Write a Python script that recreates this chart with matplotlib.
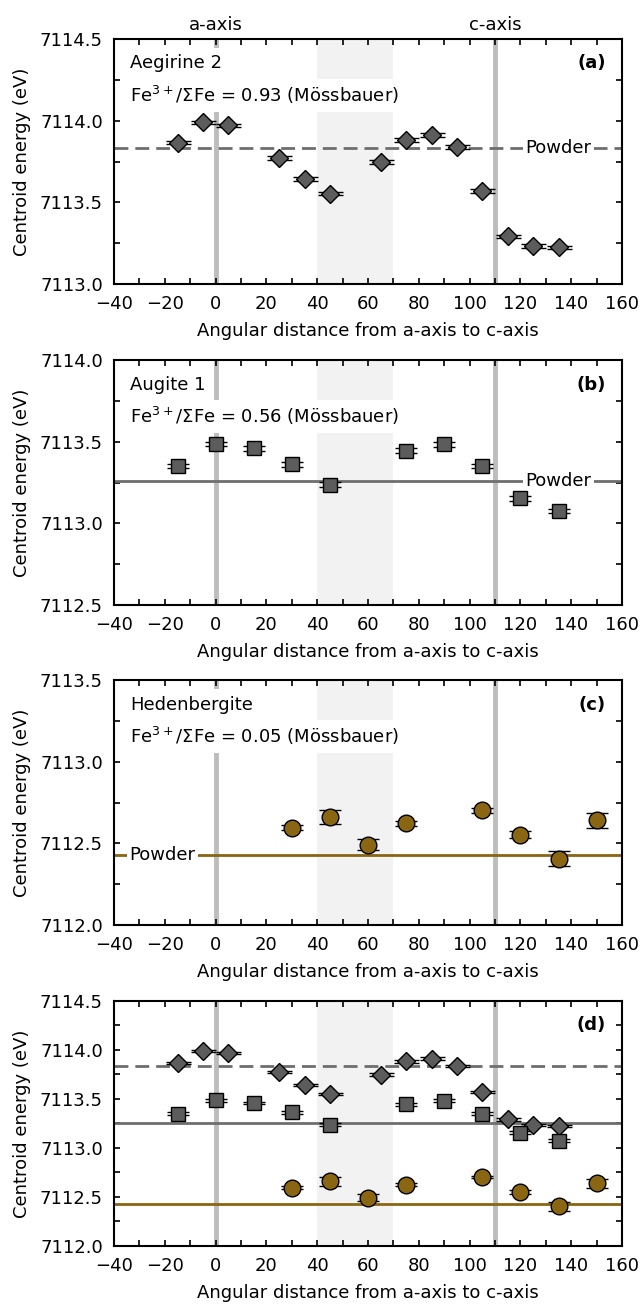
import numpy as np
import matplotlib
matplotlib.use('Agg')
import matplotlib.pyplot as plt
from matplotlib.ticker import MultipleLocator, FormatStrFormatter

plt.rcParams['font.family'] = ['DejaVu Sans']
plt.rcParams['mathtext.fontset'] = 'dejavusans'
plt.rcParams['font.size'] = 13
plt.rcParams['axes.unicode_minus'] = True

# aegirine 2 (diamonds)
aeg_x = [-15, -5, 5, 25, 35, 45, 65, 75, 85, 95, 105, 115, 125, 135]
aeg_y = [7113.865, 7113.991, 7113.971, 7113.773, 7113.645, 7113.554, 7113.749,
         7113.883, 7113.912, 7113.839, 7113.570, 7113.291, 7113.232, 7113.224]
aeg_err = [0.01, 0.01, 0.01, 0.012, 0.012, 0.01, 0.012, 0.012, 0.012, 0.012, 0.01, 0.012, 0.012, 0.01]
aeg_powder = 7113.832

# augite 1 (squares)
aug_x = [-15, 0, 15, 30, 45, 75, 90, 105, 120, 135]
aug_y = [7113.351, 7113.486, 7113.459, 7113.363, 7113.237, 7113.445, 7113.484,
         7113.351, 7113.153, 7113.076]
aug_err = [0.015, 0.015, 0.015, 0.015, 0.015, 0.015, 0.015, 0.015, 0.015, 0.012]
aug_powder = 7113.259

# hedenbergite (circles)
hed_x = [30, 45, 60, 75, 105, 120, 135, 150]
hed_y = [7112.596, 7112.661, 7112.492, 7112.624, 7112.704, 7112.553, 7112.406, 7112.641]
hed_err = [0.015, 0.044, 0.035, 0.015, 0.015, 0.02, 0.047, 0.045]
hed_powder = 7112.431

gray = '#5c5c5c'
brown = '#8a6512'
line_gray = '#6e6e6e'
vline = '#bdbdbd'
shade = '#f2f2f2'

fig = plt.figure(figsize=(6.41, 13.04), dpi=100)
left, width, height = 0.178, 0.7925, 0.1879
bottoms = [0.7822, 0.5360, 0.2906, 0.0445]
ylims = [(7113.0, 7114.5), (7112.5, 7114.0), (7112.0, 7113.5), (7112.0, 7114.5)]
tags = ['(a)', '(b)', '(c)', '(d)']

def plot_aeg(ax):
    ax.errorbar(aeg_x, aeg_y, yerr=aeg_err, fmt='D', ms=9.5, mfc=gray, mec='black', mew=1,
                ecolor='black', elinewidth=1, capsize=9, capthick=1, zorder=6)

def plot_aug(ax):
    ax.errorbar(aug_x, aug_y, yerr=aug_err, fmt='s', ms=10, mfc=gray, mec='black', mew=1,
                ecolor='black', elinewidth=1, capsize=8, capthick=1, zorder=6)

def plot_hed(ax):
    ax.errorbar(hed_x, hed_y, yerr=hed_err, fmt='o', ms=12, mfc=brown, mec='black', mew=1,
                ecolor='black', elinewidth=1, capsize=8, capthick=1, zorder=6)

box = dict(facecolor='white', edgecolor='none', pad=2)

for i, b in enumerate(bottoms):
    ax = fig.add_axes([left, b, width, height])
    ax.set_xlim(-40, 160)
    ax.set_ylim(*ylims[i])
    ax.axvspan(40, 70, color=shade, zorder=0, lw=0)
    ax.axvline(0, color=vline, lw=3.5, zorder=1)
    ax.axvline(110, color=vline, lw=3.5, zorder=1)

    ax.xaxis.set_major_locator(MultipleLocator(20))
    ax.xaxis.set_minor_locator(MultipleLocator(10))
    ax.yaxis.set_major_locator(MultipleLocator(0.5))
    ax.yaxis.set_minor_locator(MultipleLocator(0.25))
    ax.yaxis.set_major_formatter(FormatStrFormatter('%.1f'))
    ax.tick_params(which='both', direction='in', top=True, right=True, length=4.5, width=1.2)
    ax.tick_params(axis='y', pad=8)
    ax.tick_params(axis='x', pad=8)
    for s in ax.spines.values():
        s.set_linewidth(1.5)
    ax.set_xlabel('Angular distance from a-axis to c-axis')
    ax.set_ylabel('Centroid energy (eV)')
    ax.xaxis.set_label_coords(0.5, -0.155)
    ax.yaxis.set_label_coords(-0.164, 0.5)
    ax.text(0.968, 0.90, tags[i], transform=ax.transAxes, ha='right', va='center',
            fontweight='bold', zorder=7)

    if i == 0:
        ax.axhline(aeg_powder, color=line_gray, lw=2, ls=(0, (5, 2.5)), zorder=2)
        plot_aeg(ax)
        name, ratio = 'Aegirine 2', '0.93'
        ax.text(122, aeg_powder, 'Powder', ha='left', va='center', bbox=box, zorder=4)
        ax.text(0, 1.057, 'a-axis', transform=ax.get_xaxis_transform(), ha='center', va='center')
        ax.text(110, 1.057, 'c-axis', transform=ax.get_xaxis_transform(), ha='center', va='center')
    elif i == 1:
        ax.axhline(aug_powder, color=line_gray, lw=2, zorder=2)
        plot_aug(ax)
        name, ratio = 'Augite 1', '0.56'
        ax.text(122, aug_powder, 'Powder', ha='left', va='center', bbox=box, zorder=4)
    elif i == 2:
        ax.axhline(hed_powder, color=brown, lw=2, zorder=2)
        plot_hed(ax)
        name, ratio = 'Hedenbergite', '0.05'
        ax.text(-34, hed_powder, 'Powder', ha='left', va='center', bbox=box, zorder=4)
    else:
        ax.axhline(aeg_powder, color=line_gray, lw=2, ls=(0, (5, 2.5)), zorder=2)
        ax.axhline(aug_powder, color=line_gray, lw=2, zorder=2)
        ax.axhline(hed_powder, color=brown, lw=2, zorder=2)
        plot_aeg(ax)
        plot_aug(ax)
        plot_hed(ax)

    if i < 3:
        ax.text(0.031, 0.90, name, transform=ax.transAxes, ha='left', va='center',
                bbox=dict(facecolor='white', edgecolor='none', pad=5), zorder=5)
        ax.text(0.031, 0.77, 'Fe$^{3+}$/ΣFe = ' + ratio + ' (Mössbauer)', transform=ax.transAxes,
                ha='left', va='center', bbox=dict(facecolor='white', edgecolor='none', pad=4), zorder=5)

fig.savefig('out.png', dpi=100)
